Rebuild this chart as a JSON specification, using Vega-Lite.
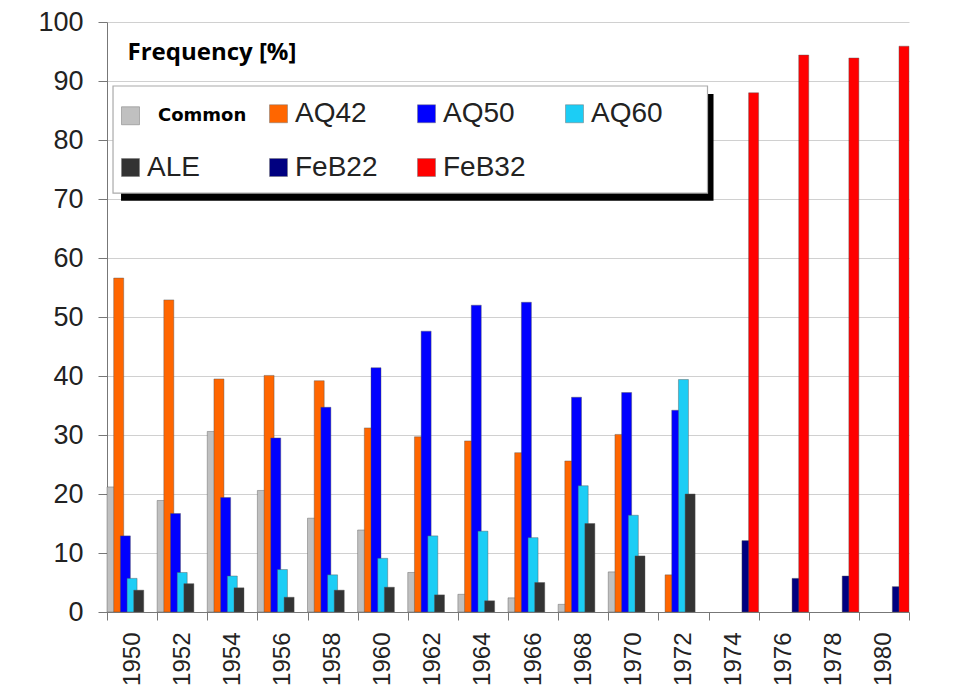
{
  "$schema": "https://vega.github.io/schema/vega-lite/v6.json",
  "width": 802,
  "height": 590,
  "autosize": {"type": "none"},
  "padding": {"left": 107, "top": 22, "right": 51, "bottom": 88},
  "background": "white",
  "config": {"view": {"stroke": null}, "font": "Liberation Sans"},
  "layer": [
    {
      "data": {"values": [{}]},
      "mark": {"type": "rect", "color": "black"},
      "encoding": {
        "x": {"datum": "1950", "type": "ordinal", "bandPosition": 0.28},
        "x2": {"datum": "1974", "bandPosition": 0.1},
        "y": {"datum": 87.8, "type": "quantitative"},
        "y2": {"datum": 69.7}
      }
    },
    {
      "data": {"values": [{}]},
      "mark": {"type": "rect", "fill": "white", "stroke": "#aaa", "strokeWidth": 1.2},
      "encoding": {
        "x": {"datum": "1950", "type": "ordinal", "bandPosition": 0.12},
        "x2": {"datum": "1972", "bandPosition": 0.98},
        "y": {"datum": 89.15, "type": "quantitative"},
        "y2": {"datum": 71.0}
      }
    },
    {
      "data": {"values": [
        {"year": "1950", "series": "Common", "value": 21.2},
        {"year": "1950", "series": "AQ42", "value": 56.6},
        {"year": "1950", "series": "AQ50", "value": 12.9},
        {"year": "1950", "series": "AQ60", "value": 5.7},
        {"year": "1950", "series": "ALE", "value": 3.7},
        {"year": "1952", "series": "Common", "value": 18.9},
        {"year": "1952", "series": "AQ42", "value": 52.9},
        {"year": "1952", "series": "AQ50", "value": 16.7},
        {"year": "1952", "series": "AQ60", "value": 6.7},
        {"year": "1952", "series": "ALE", "value": 4.8},
        {"year": "1954", "series": "Common", "value": 30.6},
        {"year": "1954", "series": "AQ42", "value": 39.5},
        {"year": "1954", "series": "AQ50", "value": 19.4},
        {"year": "1954", "series": "AQ60", "value": 6.1},
        {"year": "1954", "series": "ALE", "value": 4.1},
        {"year": "1956", "series": "Common", "value": 20.6},
        {"year": "1956", "series": "AQ42", "value": 40.1},
        {"year": "1956", "series": "AQ50", "value": 29.5},
        {"year": "1956", "series": "AQ60", "value": 7.2},
        {"year": "1956", "series": "ALE", "value": 2.5},
        {"year": "1958", "series": "Common", "value": 15.9},
        {"year": "1958", "series": "AQ42", "value": 39.2},
        {"year": "1958", "series": "AQ50", "value": 34.7},
        {"year": "1958", "series": "AQ60", "value": 6.3},
        {"year": "1958", "series": "ALE", "value": 3.7},
        {"year": "1960", "series": "Common", "value": 13.9},
        {"year": "1960", "series": "AQ42", "value": 31.2},
        {"year": "1960", "series": "AQ50", "value": 41.4},
        {"year": "1960", "series": "AQ60", "value": 9.1},
        {"year": "1960", "series": "ALE", "value": 4.2},
        {"year": "1962", "series": "Common", "value": 6.7},
        {"year": "1962", "series": "AQ42", "value": 29.7},
        {"year": "1962", "series": "AQ50", "value": 47.6},
        {"year": "1962", "series": "AQ60", "value": 12.9},
        {"year": "1962", "series": "ALE", "value": 2.9},
        {"year": "1964", "series": "Common", "value": 3.0},
        {"year": "1964", "series": "AQ42", "value": 29.0},
        {"year": "1964", "series": "AQ50", "value": 52.0},
        {"year": "1964", "series": "AQ60", "value": 13.7},
        {"year": "1964", "series": "ALE", "value": 1.9},
        {"year": "1966", "series": "Common", "value": 2.4},
        {"year": "1966", "series": "AQ42", "value": 27.0},
        {"year": "1966", "series": "AQ50", "value": 52.5},
        {"year": "1966", "series": "AQ60", "value": 12.6},
        {"year": "1966", "series": "ALE", "value": 5.0},
        {"year": "1968", "series": "Common", "value": 1.3},
        {"year": "1968", "series": "AQ42", "value": 25.6},
        {"year": "1968", "series": "AQ50", "value": 36.4},
        {"year": "1968", "series": "AQ60", "value": 21.4},
        {"year": "1968", "series": "ALE", "value": 15.0},
        {"year": "1970", "series": "Common", "value": 6.8},
        {"year": "1970", "series": "AQ42", "value": 30.1},
        {"year": "1970", "series": "AQ50", "value": 37.2},
        {"year": "1970", "series": "AQ60", "value": 16.4},
        {"year": "1970", "series": "ALE", "value": 9.5},
        {"year": "1972", "series": "AQ42", "value": 6.3},
        {"year": "1972", "series": "AQ50", "value": 34.2},
        {"year": "1972", "series": "AQ60", "value": 39.4},
        {"year": "1972", "series": "ALE", "value": 20.0},
        {"year": "1974", "series": "FeB22", "value": 12.1},
        {"year": "1974", "series": "FeB32", "value": 88.0},
        {"year": "1976", "series": "FeB22", "value": 5.7},
        {"year": "1976", "series": "FeB32", "value": 94.4},
        {"year": "1978", "series": "FeB22", "value": 6.1},
        {"year": "1978", "series": "FeB32", "value": 93.9},
        {"year": "1980", "series": "FeB22", "value": 4.3},
        {"year": "1980", "series": "FeB32", "value": 95.9}
      ]},
      "mark": {"type": "bar", "width": 10, "stroke": "#555", "strokeWidth": 0.6, "strokeOpacity": 0.7},
      "encoding": {
        "x": {
          "field": "year", "type": "ordinal",
          "scale": {"paddingInner": 0, "paddingOuter": 0},
          "axis": {
            "title": null, "labelAngle": -90, "labelFontSize": 24, "labelColor": "#222",
            "labelPadding": 12, "tickBand": "extent", "tickSize": 8, "tickColor": "#777",
            "domainColor": "#777", "grid": false
          }
        },
        "xOffset": {
          "field": "series", "type": "nominal",
          "sort": ["Common", "AQ42", "AQ50", "AQ60", "ALE", "FeB22", "FeB32"],
          "scale": {"domain": ["Common", "AQ42", "AQ50", "AQ60", "ALE", "FeB22", "FeB32"], "paddingInner": 0, "paddingOuter": 0.25}
        },
        "y": {
          "field": "value", "type": "quantitative",
          "scale": {"domain": [0, 100], "nice": false},
          "axis": {
            "values": [0, 10, 20, 30, 40, 50, 60, 70, 80, 90, 100],
            "title": "Frequency [%]", "titleAngle": 0, "titleX": 20, "titleY": 37,
            "titleAlign": "left", "titleBaseline": "alphabetic", "titleFont": "Open Sans",
            "titleFontWeight": "bold", "titleFontSize": 24, "titleColor": "#000",
            "labelFontSize": 27, "labelColor": "#222", "labelPadding": 15,
            "tickSize": 9, "tickColor": "#777", "domainColor": "#777",
            "grid": true, "gridColor": "#d0d0d0"
          }
        },
        "color": {
          "field": "series", "type": "nominal",
          "sort": ["Common", "AQ42", "AQ50", "AQ60", "ALE", "FeB22", "FeB32"],
          "scale": {
            "domain": ["Common", "AQ42", "AQ50", "AQ60", "ALE", "FeB22", "FeB32"],
            "range": ["#c0c0c0", "#ff6600", "#0000ff", "#1ccdf5", "#333333", "#000080", "#ff0000"]
          },
          "legend": {
            "orient": "none", "legendX": 14, "legendY": 82, "direction": "horizontal",
            "columns": 4, "title": null, "padding": 0,
            "symbolType": "square", "symbolSize": 324,
            "symbolStrokeColor": "#777", "symbolStrokeWidth": 0.5, "symbolOpacity": 1,
            "labelFontSize": 28, "labelFont": "Liberation Sans", "labelColor": "#222",
            "labelOffset": 7, "columnPadding": 21, "rowPadding": 25, "gridAlign": "all",
            "labelLimit": 200,
            "encode": {
              "labels": {
                "update": {
                  "fontWeight": [{"test": "datum.value === 'Common'", "value": "bold"}, {"value": "normal"}],
                  "fontSize": [{"test": "datum.value === 'Common'", "value": 18}, {"value": 28}],
                  "font": [{"test": "datum.value === 'Common'", "value": "DejaVu Sans"}, {"value": "Liberation Sans"}],
                  "fill": [{"test": "datum.value === 'Common'", "value": "#000"}, {"value": "#222"}],
                  "dx": [{"test": "datum.value === 'Common'", "value": 11}, {"value": 0}]
                }
              }
            }
          }
        }
      }
    }
  ]
}
